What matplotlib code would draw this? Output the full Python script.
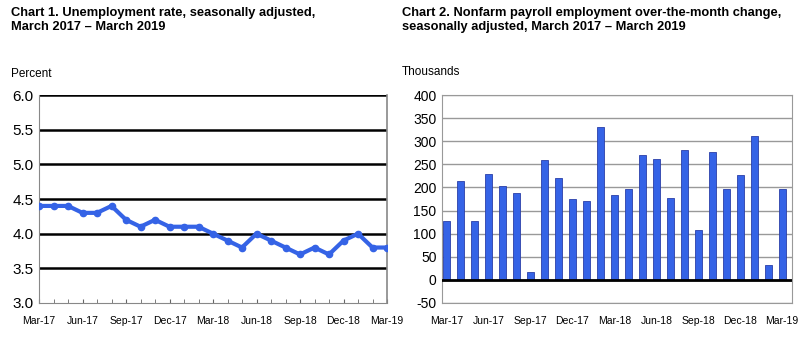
import numpy as np
import matplotlib.pyplot as plt

plt.rcParams['font.family'] = ['Liberation Sans', 'DejaVu Sans']

# -------- datos --------
meses = ['Mar-17', 'Apr-17', 'May-17', 'Jun-17', 'Jul-17', 'Aug-17', 'Sep-17',
         'Oct-17', 'Nov-17', 'Dec-17', 'Jan-18', 'Feb-18', 'Mar-18', 'Apr-18',
         'May-18', 'Jun-18', 'Jul-18', 'Aug-18', 'Sep-18', 'Oct-18', 'Nov-18',
         'Dec-18', 'Jan-19', 'Feb-19', 'Mar-19']
desempleo = [4.4, 4.4, 4.4, 4.3, 4.3, 4.4, 4.2, 4.1, 4.2, 4.1, 4.1, 4.1, 4.0,
             3.9, 3.8, 4.0, 3.9, 3.8, 3.7, 3.8, 3.7, 3.9, 4.0, 3.8, 3.8]
empleo = [128, 214, 128, 229, 203, 187, 18, 259, 220, 174, 171, 330, 183,
          197, 271, 261, 178, 282, 107, 277, 197, 227, 311, 33, 196]
yticks1 = [3.0, 3.5, 4.0, 4.5, 5.0, 5.5, 6.0]
yticks2 = [-50, 0, 50, 100, 150, 200, 250, 300, 350, 400]

azul = '#3563e6'
x = np.arange(len(meses))
xt = x[::3]
xl = [meses[i] for i in xt]

fig = plt.figure(figsize=(8.1, 3.44), dpi=100)

# ============================================================
# Chart 1: tasa de desempleo
# ============================================================
ax1 = fig.add_axes([39/810, 1 - 303/344, 348/810, 208/344])
for v in yticks1[1:]:
    ax1.axhline(v, color='black', linewidth=1.8, zorder=1)
ax1.plot(x, desempleo, color=azul, linewidth=3, marker='o', markersize=4.5, zorder=3)
ax1.set_xlim(0, 24)
ax1.set_ylim(3.0, 6.0)
ax1.set_yticks(yticks1)
ax1.set_yticklabels([f'{v:.1f}' for v in yticks1], fontsize=11)
ax1.set_xticks(x, minor=True)
ax1.set_xticks(xt)
ax1.set_xticklabels(xl, fontsize=7.5)
ax1.tick_params(axis='x', which='both', direction='in', length=3, color='#666666', pad=9)
ax1.tick_params(axis='y', length=0, pad=4)
for s in ax1.spines.values():
    s.set_color('#888888')
ax1.spines['top'].set_visible(False)
ax1.spines['right'].set_linewidth(1.2)

fig.text(11/810, 1 - 20/344, 'Chart 1. Unemployment rate, seasonally adjusted,\nMarch 2017 \u2013 March 2019',
         fontsize=9.3, fontweight='bold', va='center', ha='left', linespacing=1.3)
fig.text(11/810, 1 - 74/344, 'Percent', fontsize=8.5, va='center', ha='left')

# ============================================================
# Chart 2: cambio mensual del empleo
# ============================================================
ax2 = fig.add_axes([442/810, 1 - 303/344, 350/810, 208/344])
ax2.bar(x, empleo, width=0.52, color=azul, edgecolor='#2a3fa8', linewidth=0.6, zorder=3)
ax2.set_xlim(-0.32, 24.7)
ax2.set_ylim(-50, 400)
ax2.set_yticks(yticks2)
ax2.set_yticklabels([str(v) for v in yticks2], fontsize=10)
ax2.yaxis.grid(True, color='#999999', linewidth=1)
ax2.axhline(0, color='black', linewidth=2, zorder=4)
ax2.set_axisbelow(True)
ax2.set_xticks(xt)
ax2.set_xticklabels(xl, fontsize=7.5)
ax2.tick_params(axis='x', length=0, pad=9)
ax2.tick_params(axis='y', length=0, pad=4)
for s in ax2.spines.values():
    s.set_color('#999999')

fig.text(402/810, 1 - 20/344, 'Chart 2. Nonfarm payroll employment over-the-month change,\nseasonally adjusted, March 2017 \u2013 March 2019',
         fontsize=9.3, fontweight='bold', va='center', ha='left', linespacing=1.3)
fig.text(402/810, 1 - 72/344, 'Thousands', fontsize=8.5, va='center', ha='left')

plt.savefig('out.png', dpi=100)
